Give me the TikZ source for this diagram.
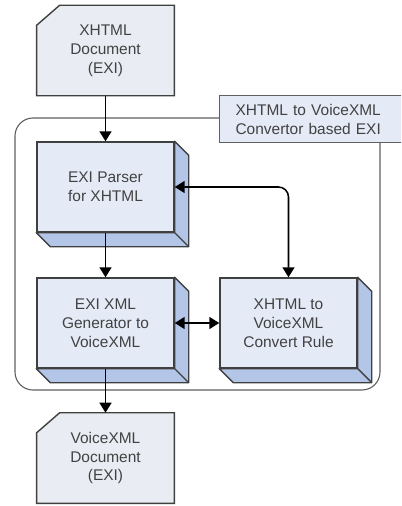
\documentclass[tikz,border=0pt]{standalone}
\usepackage{fontspec}
\setmainfont{Liberation Sans}
\usetikzlibrary{arrows.meta,backgrounds}

\definecolor{frontblue}{RGB}{228,235,247}
\definecolor{sideblue}{RGB}{180,198,231}
\definecolor{docgray}{RGB}{233,237,243}
\definecolor{edgegray}{RGB}{64,64,64}
\definecolor{framegray}{RGB}{96,96,96}
\definecolor{textgray}{RGB}{66,66,66}

\tikzset{
  block/.style={draw=edgegray, line width=1pt, fill=frontblue, text=textgray,
    minimum width=3.425cm, minimum height=2.25cm, align=center, inner sep=0pt},
  depthface/.style={draw=edgegray, line width=1pt, fill=sideblue, line join=round},
  doc/.style={text=textgray, minimum width=3.425cm, minimum height=2.25cm,
    align=center, inner sep=0pt},
  docline/.style={draw=edgegray, line width=1pt, fill=docgray},
  frame/.style={draw=framegray, line width=0.8pt, rounded corners=0.45cm},
  titlebox/.style={draw=framegray, line width=0.8pt, fill=frontblue, text=textgray,
    text width=4.6cm, inner xsep=0.4cm, minimum height=1.175cm, align=left},
  flow/.style={draw=black, line width=1.1pt, ->},
}

\begin{document}
\begin{tikzpicture}[x=0.025cm, y=-0.025cm, font=\fontsize{11}{13.5}\selectfont,
    >={Triangle[length=0.25cm, width=0.3cm]}]

  \useasboundingbox (0,0) rectangle (401,506);
  \clip (0,0) rectangle (401,506);

  % outer frame of the convertor
  \draw[frame] (15,118) rectangle (380,390);
  \node[titlebox, anchor=north west] (title) at (219,95)
    {XHTML to VoiceXML\\Convertor based EXI};

  % documents
  \node[doc] (xdoc) at (105.5,50.5) {XHTML\\Document\\(EXI)};
  \node[doc] (vdoc) at (105.5,458)  {VoiceXML\\Document\\(EXI)};
  \begin{scope}[on background layer]
    \foreach \d in {xdoc,vdoc}
      \draw[docline] (\d.south west) -- ([shift={(0,20)}]\d.north west)
        -- ([shift={(23,0)}]\d.north west) -- (\d.north east)
        -- (\d.south east) -- cycle;
  \end{scope}

  % processing blocks
  \node[block] (parser) at (105.5,187) {EXI Parser\\for XHTML};
  \node[block] (gen)    at (105.5,323) {EXI XML\\Generator to\\VoiceXML};
  \node[block] (rule)   at (288.5,323) {XHTML to\\VoiceXML\\Convert Rule};

  \foreach \b in {parser,gen,rule}
    \draw[depthface] (\b.north east) -- ++(14,14)
      -- ([shift={(14,14)}]\b.south east) -- ([shift={(14,14)}]\b.south west)
      -- (\b.south west) -- (\b.south east) -- cycle
      (\b.south east) -- ([shift={(14,14)}]\b.south east);

  % connectors
  \draw[flow] (xdoc) -- (parser);
  \draw[flow] (parser) -- (gen);
  \draw[flow] (gen) -- (vdoc);
  \draw[flow, <->] (gen) -- (rule);
  \draw[flow, <->, rounded corners=0.25cm] (parser.east) -| (rule.north);

\end{tikzpicture}
\end{document}
